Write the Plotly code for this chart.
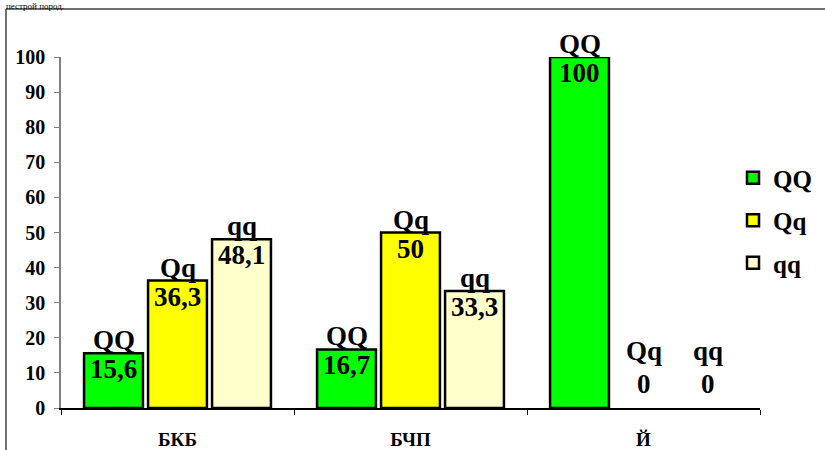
import plotly.graph_objects as go

categories = ["БКБ", "БЧП", "Й"]
series_names = ["QQ", "Qq", "qq"]
qq_big = [15.6, 16.7, 100]
qq_mid = [36.3, 50, 0]
qq_small = [48.1, 33.3, 0]
series_values = [qq_big, qq_mid, qq_small]
colors = ["#00FF00", "#FFFF00", "#FFFFCC"]
y_ticks = list(range(0, 101, 10))

SERIF = "Liberation Serif"
LBL = 27

W, H = 825, 450
L, R, T, B = 61, 65, 57, 42

fig = go.Figure()
for name, vals, col in zip(series_names, series_values, colors):
    fig.add_trace(go.Bar(
        x=categories, y=vals, name=name, legendgroup=name,
        marker=dict(color=col,
                    line=dict(color="black", width=[2.5 if v > 0 else 0 for v in vals])),
    ))

# labels: series name above each bar, value just under the bar top
n = len(series_names)
slot = (1 - 0.176) / n
for i, (name, vals) in enumerate(zip(series_names, series_values)):
    off = (i - (n - 1) / 2) * slot
    for j, v in enumerate(vals):
        xc = j + off
        txt = f"{v:g}".replace(".", ",")
        if v > 0:
            name_shift, val_shift, val_anchor = -4, 1, "top"
        else:
            name_shift, val_shift, val_anchor = 40, 7, "bottom"
        fig.add_annotation(x=xc, y=v, text=f"<b>{name}</b>", showarrow=False,
                           xref="x", yref="y", yanchor="bottom", yshift=name_shift,
                           font=dict(family=SERIF, size=LBL, color="black"))
        fig.add_annotation(x=xc, y=v, text=f"<b>{txt}</b>", showarrow=False,
                           xref="x", yref="y", yanchor=val_anchor, yshift=val_shift,
                           font=dict(family=SERIF, size=LBL, color="black"))

pw, ph = W - L - R, H - T - B
px = lambda p: (p - L) / pw
py = lambda p: (H - B - p) / ph

# outer frame (top and left edges)
fig.add_shape(type="line", xref="paper", yref="paper", x0=px(6), x1=px(W + 5),
              y0=py(9), y1=py(9), line=dict(color="#404040", width=1.5))
fig.add_shape(type="line", xref="paper", yref="paper", x0=px(6), x1=px(6),
              y0=py(9), y1=py(H + 5), line=dict(color="#404040", width=1.5))

fig.add_annotation(xref="paper", yref="paper", x=px(4), y=py(-1), xanchor="left",
                   yanchor="top", showarrow=False, text="пестрой пород.",
                   font=dict(family=SERIF, size=9, color="black"))

fig.update_layout(
    width=W, height=H,
    margin=dict(l=L, r=R, t=T, b=B, pad=0, autoexpand=False),
    paper_bgcolor="white", plot_bgcolor="white",
    barmode="group", bargap=0.176, bargroupgap=0.08,
    showlegend=True,
    legend=dict(x=px(733), y=py(155), xanchor="left", yanchor="top",
                font=dict(family=SERIF, size=25, color="black", weight="bold"),
                tracegroupgap=7, itemwidth=30, bgcolor="rgba(0,0,0,0)"),
    xaxis=dict(range=[-0.5, 2.5], tickson="boundaries", ticks="outside", ticklen=5,
               tickcolor="black", showline=True, linecolor="black", linewidth=1.5,
               showgrid=False, ticklabelstandoff=13, automargin=False,
               tickfont=dict(family=SERIF, size=19, color="black", weight="bold")),
    yaxis=dict(range=[0, 100], tickvals=y_ticks, ticks="outside", ticklen=5,
               tickcolor="#808080", showline=True, linecolor="#808080", linewidth=1.5,
               showgrid=False, zeroline=False, ticklabelstandoff=5, automargin=False,
               tickfont=dict(family=SERIF, size=20, color="black", weight="bold")),
)

fig.write_html("out.html")
